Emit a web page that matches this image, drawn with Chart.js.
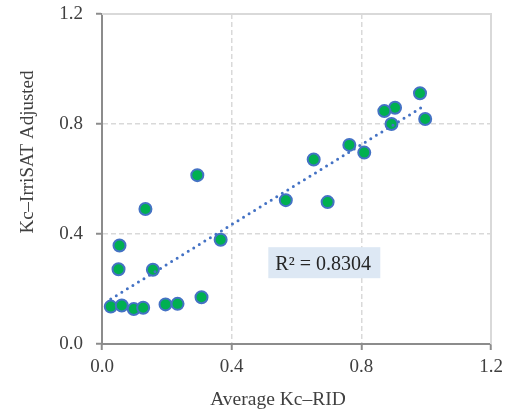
<!DOCTYPE html>
<html>
<head>
<meta charset="utf-8">
<script src="https://cdn.jsdelivr.net/npm/chart.js@4.4.0/dist/chart.umd.min.js"></script>
<style>
  html, body { margin: 0; padding: 0; background: #fff; }
  #wrap { width: 510px; height: 416px; }
</style>
</head>
<body>
<div id="wrap"><canvas id="kcChart"></canvas></div>
<script>
// average Kc from RID vs. adjusted IrriSAT Kc
const kcRid = [0.027, 0.061, 0.098, 0.127, 0.196, 0.233, 0.307, 0.051, 0.054, 0.157, 0.134, 0.294,
  0.366, 0.567, 0.981, 0.904, 0.871, 0.997, 0.893, 0.763, 0.809, 0.653, 0.696];
const kcIrrisat = [0.136, 0.140, 0.127, 0.132, 0.144, 0.146, 0.170, 0.272, 0.358, 0.270, 0.491, 0.614,
  0.379, 0.523, 0.912, 0.859, 0.847, 0.818, 0.800, 0.724, 0.696, 0.671, 0.516];
const axisTicks = [0, 0.4, 0.8, 1.2];
const rSquaredText = "R² = 0.8304";

const serif = "'Liberation Serif', 'Times New Roman', serif";
const textColor = "#404040";

// least squares fit for the trendline
const n = kcRid.length;
const mx = kcRid.reduce((a, b) => a + b, 0) / n;
const my = kcIrrisat.reduce((a, b) => a + b, 0) / n;
let sxy = 0, sxx = 0;
for (let i = 0; i < n; i++) {
  sxy += (kcRid[i] - mx) * (kcIrrisat[i] - my);
  sxx += (kcRid[i] - mx) * (kcRid[i] - mx);
}
const slope = sxy / sxx;
const intercept = my - slope * mx;
const xMin = Math.min(...kcRid), xMax = Math.max(...kcRid);
const trend = [xMin, xMax].map((x) => ({ x: x, y: intercept + slope * x }));

const points = kcRid.map((x, i) => ({ x: x, y: kcIrrisat[i] }));

// plot frame, axis titles and the R² label
const decorations = {
  id: 'decorations',
  beforeDatasetsDraw(chart) {
    const { ctx, chartArea: a } = chart;
    ctx.save();
    ctx.strokeStyle = '#d9d9d9';
    ctx.lineWidth = 2;
    ctx.beginPath();
    ctx.moveTo(a.left, a.top);
    ctx.lineTo(a.right, a.top);
    ctx.lineTo(a.right, a.bottom);
    ctx.stroke();
    ctx.restore();
  },
  afterDraw(chart) {
    const { ctx, scales } = chart;
    ctx.save();
    ctx.fillStyle = textColor;
    ctx.textAlign = 'center';
    ctx.textBaseline = 'alphabetic';
    ctx.font = "19.5px " + serif;
    ctx.fillText("Average Kc–RID", 278, 405);

    ctx.font = "19px " + serif;
    ctx.translate(33, 152);
    ctx.rotate(-Math.PI / 2);
    ctx.fillText("Kc–IrriSAT Adjusted", 0, 0);
    ctx.restore();

    // R² box sits in data space below the trendline
    const bx = scales.x.getPixelForValue(0.513);
    const by = scales.y.getPixelForValue(0.352);
    ctx.save();
    ctx.fillStyle = '#dde8f4';
    ctx.fillRect(bx, by, 112, 31);
    ctx.fillStyle = '#262626';
    ctx.font = "20px " + serif;
    ctx.textAlign = 'left';
    ctx.textBaseline = 'alphabetic';
    ctx.fillText(rSquaredText, bx + 7, by + 23);
    ctx.restore();
  }
};

const gridOpts = {
  color: (c) => (c.tick && c.tick.value === 0 ? 'rgba(0,0,0,0)' : '#d9d9d9'),
  lineWidth: 1.5,
  drawTicks: true,
  tickLength: 6,
  tickColor: '#8c8c8c',
  tickWidth: 2
};

new Chart(document.getElementById('kcChart'), {
  type: 'scatter',
  data: {
    datasets: [
      {
        label: 'Linear fit',
        data: trend,
        showLine: true,
        borderColor: '#4472c4',
        borderWidth: 3,
        borderDash: [0, 6.5],
        borderCapStyle: 'round',
        pointRadius: 0,
        order: 0
      },
      {
        label: 'Kc',
        data: points,
        backgroundColor: '#00b050',
        borderColor: '#4472c4',
        borderWidth: 2,
        pointRadius: 6,
        order: 1
      }
    ]
  },
  options: {
    responsive: true,
    maintainAspectRatio: false,
    animation: false,
    layout: { padding: { top: 14, right: 19, left: 0, bottom: 0 } },
    plugins: { legend: { display: false }, tooltip: { enabled: false } },
    scales: {
      x: {
        type: 'linear',
        min: 0,
        max: 1.2,
        afterFit: (s) => { s.height = 72; s.paddingLeft = 0; s.paddingRight = 0; },
        afterBuildTicks: (s) => { s.ticks = axisTicks.map((v) => ({ value: v })); },
        grid: gridOpts,
        border: { color: '#8c8c8c', width: 2, dash: [5, 3] },
        ticks: {
          padding: 6,
          color: textColor,
          font: { family: serif, size: 19 },
          callback: (v) => v.toFixed(1)
        }
      },
      y: {
        type: 'linear',
        min: 0,
        max: 1.2,
        afterFit: (s) => { s.width = 102; s.paddingTop = 0; s.paddingBottom = 0; },
        afterBuildTicks: (s) => { s.ticks = axisTicks.map((v) => ({ value: v })); },
        grid: gridOpts,
        border: { color: '#8c8c8c', width: 2, dash: [5, 3] },
        ticks: {
          padding: 13,
          color: textColor,
          font: { family: serif, size: 19 },
          callback: (v) => v.toFixed(1)
        }
      }
    }
  },
  plugins: [decorations]
});
</script>
</body>
</html>
